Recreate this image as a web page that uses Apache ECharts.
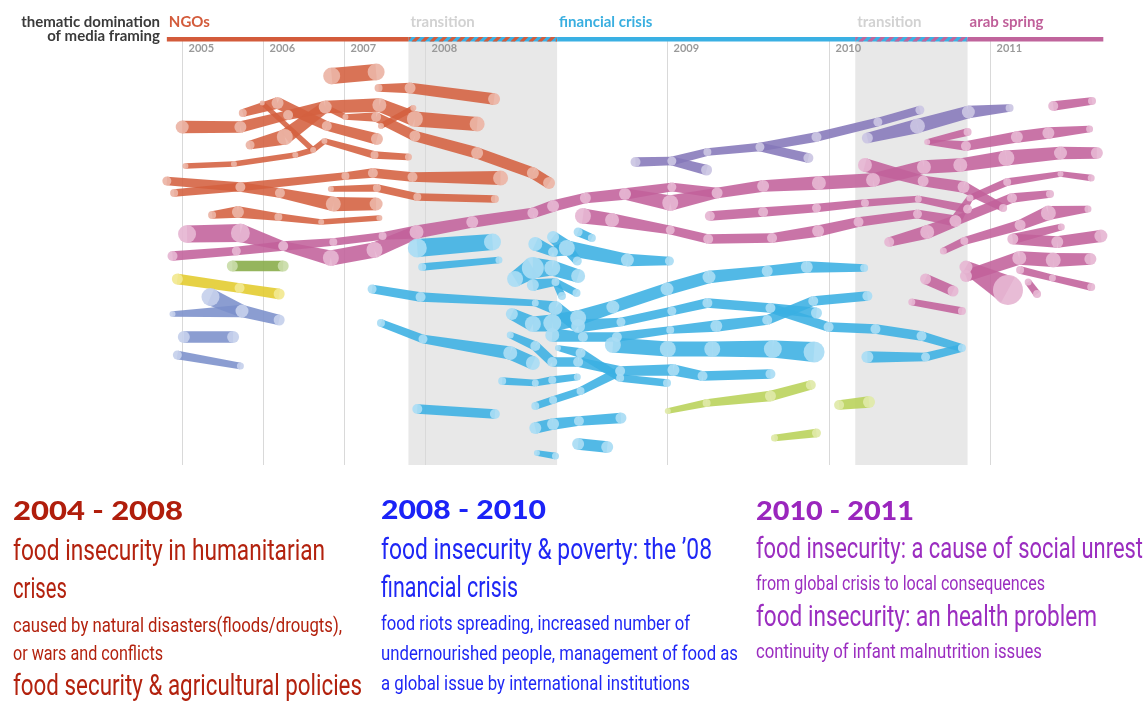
<!DOCTYPE html>
<html>
<head>
<meta charset="utf-8">
<script src="https://cdn.jsdelivr.net/npm/echarts@6/dist/echarts.min.js"></script>
<style>
html,body{margin:0;padding:0;background:#ffffff;}
#chart{width:1146px;height:704px;}
</style>
</head>
<body>
<div id="chart"></div>
<script>
// ================= DATA =================
// time axis in layout units: 2005=0, 2006=1, 2007=2, 2008=3, 2009=6, 2010=8, 2011=10
const yearTickPos = [0, 1, 2, 3, 6, 8, 10];
const yearTickLabels = ['2005', '2006', '2007', '2008', '2009', '2010', '2011'];

// thematic domination periods
const periodLabels = ['NGOs', 'transition', 'financial crisis', 'transition', 'arab spring'];
const periodStart = [-0.19, 2.80, 4.64, 8.33, 9.72];
const periodEnd = [2.80, 4.64, 8.33, 9.72, 11.40];

// streams: each node = [time, lane, weight]
const streamsNGO = [
  [[1.85,76,8.5],[2.40,72,8.5]],
  [[2.43,88,4],[2.82,88,5.5],[3.86,99,6]],
  [[0,127,6.5],[0.72,127,6],[1.31,115,5],[1.77,107,6.5],[2.44,105,7],[2.88,119,8],[3.65,124,7.5]],
  [[0.75,113,4],[1.18,103,6],[1.79,126,5],[2.41,139,6]],
  [[0.84,145,4.5],[1.27,137,8],[1.77,107,6]],
  [[1.77,107,3],[2.02,117,3],[2.40,117,5],[2.88,136,5.5],[3.65,153,6],[4.34,173,6],[4.54,183,6]],
  [[2.46,126,3],[2.86,108,3]],
  [[0.04,166,3],[0.64,164,3],[1.40,155,3],[1.62,150,3],[1.76,141,3],[2.38,155,4],[2.80,157,3.5]],
  [[0.99,103,2.5],[1.62,150,3]],
  [[-0.19,181,4.5],[0.72,187,5],[1.21,193,5],[1.87,204,7.5],[2.40,204,6.5]],
  [[-0.10,193,4],[0.72,187,4.5],[2.02,176,4],[2.36,173,5],[2.85,177,5],[3.94,178,7.5]],
  [[1.84,189,3],[2.41,188,4],[2.91,197,4],[3.87,199,4]],
  [[0.37,215,4],[0.69,212,6],[1.19,217,4],[1.72,222,3],[2.44,218,3]]
];

const streamsArabSpring = [
  [[0.06,234,9],[0.72,233,9.5],[1.25,246,5],[1.84,258,8],[2.38,250,8],[2.90,232,7]],
  [[-0.12,256,5],[0.67,251,4.5],[1.25,246,5],[1.87,242,4],[2.48,236,4],[2.90,232,7],[3.59,222,6],[4.34,213,5.5],[4.59,206,6],[4.99,198,5.5],[5.48,194,6],[6.06,187,4.5],[6.62,193,5.5],[7.19,186,6],[7.88,183,7],[8.55,180,7],[9.18,167,7],[9.63,165,7],[10.20,158,8],[10.87,153,6.5],[11.32,153,6]],
  [[5.48,194,6],[6.04,203,8],[6.62,193,5.5]],
  [[4.96,216,8],[5.32,220,7],[6.04,230,4.5],[6.51,239,5],[7.30,238,5],[7.87,231,6],[8.37,222,5],[9.10,214,4.5],[9.57,221,6]],
  [[6.53,216,5],[7.19,212,5],[7.85,208,4.5],[8.45,203,4],[9.11,199,3.5],[9.72,209,4.5]],
  [[8.75,242,5],[9.22,232,7],[9.57,221,6],[9.75,198,3.5],[10.21,182,4],[10.87,174,3],[11.25,178,3.5]],
  [[9.57,221,5],[10.27,198,5],[10.74,194,4]],
  [[8.45,165,7],[9.17,181,5.5],[9.67,187,6],[10.16,208,4]],
  [[9.22,142,3],[9.72,132,4]],
  [[9.22,142,3],[9.70,146,5],[10.33,137,6],[10.72,133,6],[11.23,129,3.5]],
  [[10.78,106,5],[11.26,101,4]],
  [[9.42,251,3.5],[9.68,241,4],[10.37,225,5.5],[10.72,213,7.5],[11.21,209,3.5]],
  [[10.28,239,5.5],[10.88,227,3.5]],
  [[10.28,239,5.5],[10.83,242,6],[11.37,236,6.5]],
  [[9.70,276,6],[10.36,258,7],[10.78,260,7.5],[11.24,259,6]],
  [[9.70,267,6.5],[10.22,290,15]],
  [[10.37,270,4],[10.77,278,3.5],[11.25,287,4]],
  [[10.47,282,3.5],[10.58,294,4]],
  [[9.20,279,5.5],[9.54,291,5.5]],
  [[9.03,302,3.5],[9.65,311,4]]
];

const streamsFinancial = [
  [[2.91,248,9.5],[3.84,242,8.5]],
  [[2.97,267,4],[3.92,260,3.5]],
  [[4.37,244,7],[4.59,252,5],[4.76,248,8],[5.51,260,6.5],[6.03,261,4.5]],
  [[4.59,237,6],[4.76,248,8]],
  [[4.76,248,6],[4.89,261,4.5]],
  [[4.90,232,4.5],[5.07,238,4]],
  [[4.12,279,8],[4.34,268,11],[4.58,268,8],[4.90,276,7]],
  [[4.34,285,6],[4.62,282,4],[4.88,293,4]],
  [[4.62,282,3.5],[4.70,296,4]],
  [[2.35,289,4.5],[2.95,297,5],[4.37,303,3.5],[4.62,308,7]],
  [[4.08,314,6],[4.34,324,8],[4.58,323,9],[4.90,318,8],[5.33,307,6.5],[6.00,289,6.5],[6.52,277,6.5],[7.24,271,5.5],[7.73,267,6],[8.44,268,4]],
  [[4.62,308,7],[4.90,326,7],[5.43,322,4.5],[6.06,311,4.5],[6.50,303,5],[7.28,308,5],[7.85,313,5.5]],
  [[7.28,308,5],[8.00,327,5],[8.58,329,5],[9.15,336,5],[9.65,348,4]],
  [[4.58,335,7],[4.96,337,5],[5.38,337,5],[6.04,330,4],[6.61,326,6],[7.24,320,5],[7.81,301,5],[8.48,296,5]],
  [[8.48,357,6],[9.20,357,4.5],[9.65,348,4]],
  [[5.33,345,8],[6.01,349,8],[6.56,349,8],[7.31,349,9],[7.82,352,10.5]],
  [[2.46,323,4],[2.98,339,4.5],[4.06,353,7],[4.34,363,7]],
  [[4.06,335,3.5],[4.37,346,5],[4.58,362,5],[4.90,362,5],[5.42,371,5],[6.08,370,6],[6.44,376,5],[7.28,374,5]],
  [[4.65,348,3],[4.93,353,5],[5.42,378,4],[6.00,383,4]],
  [[3.96,381,4],[4.37,383,3.5],[4.58,380,4],[4.89,377,3.5]],
  [[4.37,406,4],[4.59,400,4],[4.93,391,4],[5.42,371,5]],
  [[4.37,428,6],[4.59,424,6],[4.91,421,5],[5.43,418,5.5]],
  [[4.90,444,6],[5.26,447,6]],
  [[4.39,453,3],[4.62,456,3.5]],
  [[2.91,409,5],[3.87,414,5]]
];

const streamsPurple = [
  [[5.61,162,5],[6.06,161,4.5],[6.50,152,4],[7.15,147,4.5],[7.85,137,5],[8.61,122,4.5],[9.13,110,4.5]],
  [[6.06,161,4.5],[6.49,170,5.5]],
  [[7.15,147,4.5],[7.75,158,5]],
  [[8.48,138,5.5],[9.10,126,7.5],[9.73,112,6.5],[10.24,108,4]]
];

const streamsSlate = [
  [[-0.12,314,3],[0.74,311,6.5],[1.20,320,5.5]],
  [[0.35,297,9],[0.74,311,6.5]],
  [[0.02,337,6],[0.63,337,6]],
  [[-0.06,355,4.5],[0.72,366,3.5]]
];

const streamsYellow = [
  [[-0.06,279,5.5],[0.71,288,5],[1.20,294,5.5]]
];

const streamsGreen = [
  [[0.62,266,5.5],[1.25,266,5.5]]
];

const streamsLime = [
  [[6.01,411,3],[6.49,403,4],[7.28,396,5.5],[7.78,385,5]],
  [[8.13,405,5],[8.50,402,6]],
  [[7.33,438,3.5],[7.85,433,4.5]]
];

// ================= STYLE =================
const THEMES = [
  {band:'#d4603f', node:'#ecb4a5'},
  {band:'#c1619b', node:'#e6b6d3'},
  {band:'#3aafe2', node:'#a9dcf4'},
  {band:'#8577b9', node:'#cbc5e3'},
  {band:'#7b8fcb', node:'#c6d0eb'},
  {band:'#e2cb2b', node:'#f2e890'},
  {band:'#86ab47', node:'#c9dca8'},
  {band:'#b8d158', node:'#dfe9a8'}
];
const streamGroups = [
  {theme:0, streams:streamsNGO},
  {theme:2, streams:streamsFinancial},
  {theme:1, streams:streamsArabSpring},
  {theme:3, streams:streamsPurple},
  {theme:4, streams:streamsSlate},
  {theme:5, streams:streamsYellow},
  {theme:6, streams:streamsGreen},
  {theme:7, streams:streamsLime}
];
const BAND_FACTOR = 0.95;

const segData = [], nodeData = [], seen = {};
streamGroups.forEach(function (g) {
  g.streams.forEach(function (s) {
    for (let i = 0; i < s.length - 1; i++) {
      segData.push([s[i][0], s[i][1], s[i][2], s[i+1][0], s[i+1][1], s[i+1][2], g.theme]);
    }
    s.forEach(function (n) {
      const k = g.theme + '|' + n[0] + '|' + n[1];
      if (!seen[k]) { seen[k] = 1; nodeData.push([n[0], n[1], n[2], g.theme]); }
    });
  });
});

const periodData = periodLabels.map(function (l, i) { return [periodStart[i], periodEnd[i], i]; });
const shadeData = periodData.filter(function (d) { return periodLabels[d[2]] === 'transition'; });
const tickData = yearTickPos.map(function (p, i) { return [p, i]; });

const PERIOD_COLORS = ['#d35b3b', null, '#3ab0e3', null, '#c0649c'];
const PERIOD_MIX = [null, ['#3ab0e3', '#d35b3b'], null, ['#3ab0e3', '#c0649c'], null];
const PERIOD_LABEL_COLORS = ['#d35b3b', '#d2d2d2', '#3aafe0', '#d2d2d2', '#c0609a'];

function renderShade(params, api) {
  const a = api.coord([api.value(0), 41]);
  const b = api.coord([api.value(1), 465]);
  return {type:'rect', shape:{x:a[0], y:a[1], width:b[0]-a[0], height:b[1]-a[1]}, style:{fill:'#e8e8e8'}};
}
function renderTick(params, api) {
  const a = api.coord([api.value(0), 41]);
  const b = api.coord([api.value(0), 465]);
  const x = Math.round(a[0]) + 0.5;
  return {type:'group', children:[
    {type:'line', shape:{x1:x, y1:a[1], x2:x, y2:b[1]}, style:{stroke:'#d9d9d9', lineWidth:1}},
    {type:'text', x:x + 6, y:api.coord([0, 48])[1], style:{text:yearTickLabels[api.value(1)], fill:'#9a9a9a', font:'bold 11px Lato, "Open Sans", sans-serif', align:'left', verticalAlign:'middle'}}
  ]};
}
function renderPeriod(params, api) {
  const i = api.value(2);
  const a = api.coord([api.value(0), 37]);
  const b = api.coord([api.value(1), 41.5]);
  const children = [];
  if (PERIOD_COLORS[i]) {
    children.push({type:'rect', shape:{x:a[0], y:a[1], width:b[0]-a[0], height:b[1]-a[1]}, style:{fill:PERIOD_COLORS[i]}});
  } else {
    const mix = PERIOD_MIX[i];
    children.push({type:'rect', shape:{x:a[0], y:a[1], width:b[0]-a[0], height:b[1]-a[1]}, style:{fill:mix[0]}});
    const h = b[1] - a[1];
    for (let x = a[0] - 6; x < b[0]; x += 9) {
      const pts = [[x, b[1]], [x + 4.5, b[1]], [x + 4.5 + h, a[1]], [x + h, a[1]]].map(function (p) {
        return [Math.max(a[0], Math.min(b[0], p[0])), p[1]];
      });
      children.push({type:'polygon', shape:{points:pts}, style:{fill:mix[1]}});
    }
  }
  children.push({type:'text', x:a[0] + 2, y:api.coord([0, 22.5])[1], style:{text:periodLabels[i], fill:PERIOD_LABEL_COLORS[i], font:'bold 15px Lato, "Open Sans", sans-serif', align:'left', verticalAlign:'middle'}});
  return {type:'group', children:children};
}
function renderSegment(params, api) {
  const p1 = api.coord([api.value(0), api.value(1)]);
  const p2 = api.coord([api.value(3), api.value(4)]);
  const h1 = api.value(2) * BAND_FACTOR, h2 = api.value(5) * BAND_FACTOR;
  const dx = p2[0] - p1[0], dy = p2[1] - p1[1];
  const L = Math.sqrt(dx*dx + dy*dy) || 1;
  const nx = -dy / L, ny = dx / L;
  return {type:'polygon', shape:{points:[
    [p1[0] + nx*h1, p1[1] + ny*h1], [p2[0] + nx*h2, p2[1] + ny*h2],
    [p2[0] - nx*h2, p2[1] - ny*h2], [p1[0] - nx*h1, p1[1] - ny*h1]
  ]}, style:{fill:THEMES[api.value(6)].band, opacity:0.88}};
}
function renderNode(params, api) {
  const p = api.coord([api.value(0), api.value(1)]);
  return {type:'circle', shape:{cx:p[0], cy:p[1], r:api.value(2)}, style:{fill:THEMES[api.value(3)].node, opacity:0.92}};
}

// ================= TEXT BLOCKS =================
const measureCtx = document.createElement('canvas').getContext('2d');
const BODY_FONT = 'Roboto, "Noto Sans", sans-serif';
const TITLE_FONT = 'Lato, "DejaVu Sans", sans-serif';
const textLines = [
  {t:'2004 - 2008', x:13, base:521, w:170, size:27, title:true, c:'#b01e0c'},
  {t:'food insecurity in humanitarian', x:13, base:562, w:312, size:30, c:'#b3220e'},
  {t:'crises', x:13, base:600, w:54, size:30, c:'#b3220e'},
  {t:'caused by natural disasters(floods/drougts),', x:13, base:633, w:329, size:21, c:'#b3220e'},
  {t:'or wars and conflicts', x:13, base:661, w:150, size:21, c:'#b3220e'},
  {t:'food security & agricultural policies', x:13, base:697, w:349, size:30, c:'#b3220e'},
  {t:'2008 - 2010', x:381, base:520, w:165, size:27, title:true, c:'#1b23f7'},
  {t:'food insecurity & poverty: the \u201908', x:381, base:561, w:331, size:30, c:'#1f27f5'},
  {t:'financial crisis', x:381, base:599, w:137, size:30, c:'#1f27f5'},
  {t:'food riots spreading, increased number of', x:381, base:631, w:309, size:21, c:'#1f27f5'},
  {t:'undernourished people, management of food as', x:381, base:661, w:357, size:21, c:'#1f27f5'},
  {t:'a global issue by international institutions', x:381, base:691, w:309, size:21, c:'#1f27f5'},
  {t:'2010 - 2011', x:756, base:521, w:158, size:27, title:true, c:'#9a26bd'},
  {t:'food insecurity: a cause of social unrest', x:756, base:560, w:387, size:30, c:'#9b2dc0'},
  {t:'from global crisis to local consequences', x:756, base:591, w:289, size:21, c:'#9b2dc0'},
  {t:'food insecurity: an health problem', x:756, base:628, w:341, size:30, c:'#9b2dc0'},
  {t:'continuity of infant malnutrition issues', x:756, base:659, w:286, size:21, c:'#9b2dc0'}
];
const graphicEls = textLines.map(function (l) {
  const font = (l.title ? '900 ' : '400 ') + l.size + 'px ' + (l.title ? TITLE_FONT : BODY_FONT);
  measureCtx.font = font;
  const w0 = measureCtx.measureText(l.t).width || 1;
  return {type:'text', x:l.x, y:l.base - (l.title ? 0.37 : 0.31) * l.size, scaleX:l.w / w0, scaleY:1,
    style:{text:l.t, font:font, fill:l.c, align:'left', verticalAlign:'middle'}};
});
graphicEls.push({type:'text', x:160, y:22.5, style:{text:'thematic domination', font:'bold 15px Lato, "Open Sans", sans-serif', fill:'#3a3a3a', align:'right', verticalAlign:'middle'}});
graphicEls.push({type:'text', x:160, y:36, style:{text:'of media framing', font:'bold 15px Lato, "Open Sans", sans-serif', fill:'#3a3a3a', align:'right', verticalAlign:'middle'}});

// ================= CHART =================
const chart = echarts.init(document.getElementById('chart'), null, {renderer:'canvas'});
chart.setOption({
  animation:false,
  backgroundColor:'#ffffff',
  grid:{left:162, top:0, width:949.4, height:465},
  xAxis:{type:'value', min:-0.25, max:11.5, show:false},
  yAxis:{type:'value', min:0, max:465, inverse:true, show:false},
  graphic:{elements:graphicEls},
  series:[
    {type:'custom', name:'shade', z:1, renderItem:renderShade, data:shadeData, encode:{x:[0,1]}, silent:true},
    {type:'custom', name:'years', z:2, renderItem:renderTick, data:tickData, encode:{x:0}, silent:true},
    {type:'custom', name:'streams', z:3, renderItem:renderSegment, data:segData, encode:{x:[0,3], y:[1,4]}, silent:true},
    {type:'custom', name:'nodes', z:4, renderItem:renderNode, data:nodeData, encode:{x:0, y:1}, silent:true},
    {type:'custom', name:'periods', z:5, renderItem:renderPeriod, data:periodData, encode:{x:[0,1]}, silent:true}
  ]
});
</script>
</body>
</html>
